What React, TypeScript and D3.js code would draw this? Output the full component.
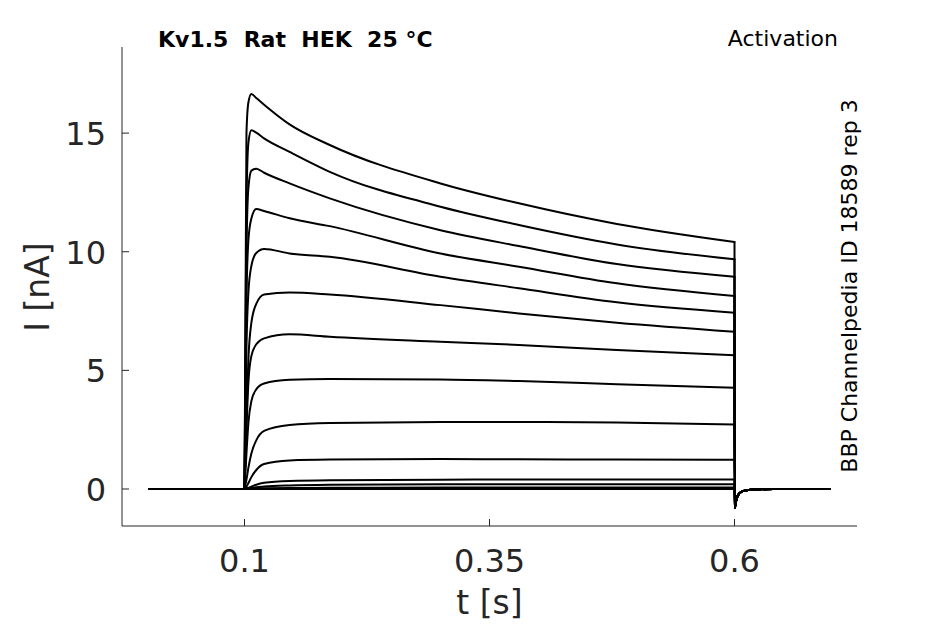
import React, { useEffect, useState } from 'react';
import * as d3 from 'd3';

// sample times (s) during the voltage step
const stepTimes = [0.1, 0.102, 0.104, 0.107, 0.112, 0.12, 0.146, 0.187, 0.3, 0.38, 0.48, 0.6];

// current (nA) of each sweep at the step sample times
const sweep1 = [0, 15.0, 16.3, 16.65, 16.48, 16.2, 15.37, 14.5, 12.88, 12.04, 11.17, 10.41];
const sweep2 = [0, 12.0, 14.6, 15.12, 15.02, 14.78, 14.21, 13.37, 11.9, 11.13, 10.31, 9.68];
const sweep3 = [0, 10.0, 12.7, 13.42, 13.5, 13.33, 12.88, 12.25, 10.91, 10.24, 9.48, 8.95];
const sweep4 = [0, 8.0, 10.5, 11.4, 11.8, 11.72, 11.41, 11.08, 9.93, 9.37, 8.67, 8.13];
const sweep5 = [0, 6.0, 8.3, 9.4, 9.95, 10.12, 9.93, 9.79, 8.95, 8.46, 7.87, 7.43];
const sweep6 = [0, 3.0, 5.5, 7.0, 7.8, 8.2, 8.28, 8.2, 7.75, 7.4, 7.01, 6.63];
const sweep7 = [0, 2.5, 4.5, 5.6, 6.1, 6.35, 6.52, 6.42, 6.21, 6.07, 5.86, 5.64];
const sweep8 = [0, 1.5, 2.8, 3.7, 4.2, 4.45, 4.6, 4.64, 4.62, 4.55, 4.42, 4.27];
const sweep9 = [0, 0.4, 0.9, 1.5, 2.05, 2.45, 2.7, 2.78, 2.82, 2.82, 2.8, 2.72];
const sweep10 = [0, 0.1, 0.25, 0.5, 0.8, 1.05, 1.2, 1.24, 1.26, 1.25, 1.24, 1.23];
const sweep11 = [0, 0.02, 0.05, 0.1, 0.18, 0.26, 0.34, 0.37, 0.39, 0.4, 0.4, 0.4];
const sweep12 = [0, 0.01, 0.02, 0.04, 0.07, 0.1, 0.15, 0.18, 0.2, 0.2, 0.2, 0.2];
const sweep13 = [0, 0, 0.01, 0.01, 0.02, 0.03, 0.04, 0.05, 0.06, 0.06, 0.06, 0.06];
const sweep14 = [0, 0, 0, 0, 0, 0, 0, 0, 0, 0, 0, 0];

const sweeps = [sweep1, sweep2, sweep3, sweep4, sweep5, sweep6, sweep7, sweep8, sweep9, sweep10, sweep11, sweep12, sweep13, sweep14];

// holding period before the step and tail current after it
const preTimes = [0.003, 0.1];
const preValues = [0, 0];
const tailTimes = [0.6002, 0.602, 0.605, 0.61, 0.62, 0.64, 0.697];
const tailValues = [-0.8, -0.42, -0.18, -0.07, -0.02, 0, 0];

const xTicks = [0.1, 0.35, 0.6];
const yTicks = [0, 5, 10, 15];

const App: React.FC = () => {
  const [svgRef, setSvgRef] = useState<SVGSVGElement | null>(null);
  const width = 945;
  const height = 624;

  useEffect(() => {
    document.body.style.margin = '0';
    if (!svgRef) return;

    d3.select(svgRef).selectAll('*').remove();

    const svg = d3.select(svgRef)
      .attr('width', width)
      .attr('height', height)
      .style('display', 'block')
      .style('background', '#fff');

    const left = 122;
    const right = 857;
    const top = 47;
    const bottom = 526;
    const axisColor = '#262626';
    const font = 'DejaVu Sans, sans-serif';

    const x = d3.scaleLinear().domain([-0.025, 0.725]).range([left, right]);
    const y = d3.scaleLinear().domain([-1.56, 18.63]).range([bottom, top]);

    // traces: holding, step and tail drawn as separate pieces so the
    // vertical jumps don't bend the curve
    const straight = d3.line<[number, number]>()
      .x(d => x(d[0]))
      .y(d => y(d[1]));
    const smooth = d3.line<[number, number]>()
      .x(d => x(d[0]))
      .y(d => y(d[1]))
      .curve(d3.curveMonotoneX);

    const traces = svg.append('g')
      .attr('fill', 'none')
      .attr('stroke', '#000')
      .attr('stroke-width', 2)
      .attr('stroke-linejoin', 'round')
      .attr('stroke-linecap', 'round');

    sweeps.slice().reverse().forEach(values => {
      const pre: [number, number][] = preTimes.map((t, i) => [t, preValues[i]]);
      const step: [number, number][] = stepTimes.map((t, i) => [t, values[i]]);
      const tail: [number, number][] = [[0.6, values[values.length - 1]]];
      tailTimes.forEach((t, i) => tail.push([t, tailValues[i]]));

      traces.append('path').attr('d', straight(pre));
      traces.append('path').attr('d', smooth(step));
      traces.append('path').attr('d', smooth(tail));
    });

    // axes
    const g = svg.append('g');
    g.append('line')
      .attr('x1', left).attr('x2', left)
      .attr('y1', top).attr('y2', bottom)
      .attr('stroke', axisColor).attr('stroke-width', 1);
    g.append('line')
      .attr('x1', left).attr('x2', right)
      .attr('y1', bottom).attr('y2', bottom)
      .attr('stroke', axisColor).attr('stroke-width', 1);

    xTicks.forEach(t => {
      g.append('line')
        .attr('x1', x(t)).attr('x2', x(t))
        .attr('y1', bottom).attr('y2', bottom - 7)
        .attr('stroke', axisColor);
      g.append('text')
        .attr('x', x(t))
        .attr('y', 572)
        .attr('text-anchor', 'middle')
        .style('font-family', font)
        .style('font-size', '32px')
        .attr('fill', axisColor)
        .text(String(t));
    });

    yTicks.forEach(v => {
      g.append('line')
        .attr('x1', left).attr('x2', left + 7)
        .attr('y1', y(v)).attr('y2', y(v))
        .attr('stroke', axisColor);
      g.append('text')
        .attr('x', 106)
        .attr('y', y(v) + 12)
        .attr('text-anchor', 'end')
        .style('font-family', font)
        .style('font-size', '32px')
        .attr('fill', axisColor)
        .text(String(v));
    });

    // axis labels
    g.append('text')
      .attr('x', x(0.35))
      .attr('y', 614)
      .attr('text-anchor', 'middle')
      .style('font-family', font)
      .style('font-size', '33px')
      .attr('fill', axisColor)
      .text('t [s]');

    g.append('text')
      .attr('transform', 'translate(49,287) rotate(-90)')
      .attr('text-anchor', 'middle')
      .style('font-family', font)
      .style('font-size', '33px')
      .attr('fill', axisColor)
      .text('I [nA]');

    // annotations
    svg.append('text')
      .attr('x', 158)
      .attr('y', 47)
      .style('font-family', font)
      .style('font-size', '22px')
      .style('font-weight', 'bold')
      .style('white-space', 'pre')
      .attr('fill', '#000')
      .text('Kv1.5  Rat  HEK  25 °C');

    svg.append('text')
      .attr('x', 838)
      .attr('y', 46)
      .attr('text-anchor', 'end')
      .style('font-family', font)
      .style('font-size', '22px')
      .attr('fill', '#000')
      .text('Activation');

    svg.append('text')
      .attr('transform', 'translate(857,286) rotate(-90)')
      .attr('text-anchor', 'middle')
      .style('font-family', font)
      .style('font-size', '22px')
      .attr('fill', '#000')
      .text('BBP Channelpedia ID 18589 rep 3');
  }, [svgRef]);

  return <svg ref={setSvgRef} />;
};

export default App;
